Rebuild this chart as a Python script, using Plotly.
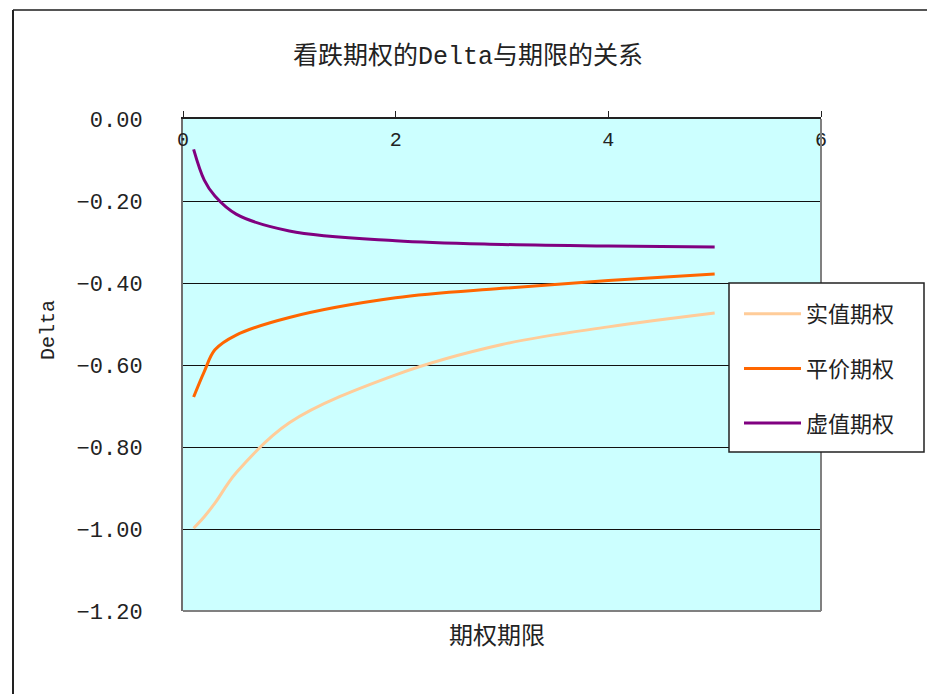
import plotly.graph_objects as go

# Data
maturity = [0.1, 0.2, 0.3, 0.5, 1, 2, 3, 4, 5]
itm_delta = [-0.998, -0.970, -0.937, -0.863, -0.741, -0.624, -0.550, -0.507, -0.473]
atm_delta = [-0.678, -0.616, -0.563, -0.527, -0.484, -0.436, -0.413, -0.394, -0.378]
otm_delta = [-0.074, -0.149, -0.188, -0.232, -0.273, -0.297, -0.306, -0.310, -0.312]
series_names = ["实值期权", "平价期权", "虚值期权"]
series_colors = ["#FFCC99", "#FF6600", "#800080"]
x_ticks = [0, 2, 4, 6]
y_ticks = [0.0, -0.2, -0.4, -0.6, -0.8, -1.0, -1.2]

CJK = "Noto Sans CJK SC"
MONO = "Liberation Mono, DejaVu Sans Mono, " + CJK

fig = go.Figure()
for name, vals, col in zip(series_names, [itm_delta, atm_delta, otm_delta], series_colors):
    fig.add_trace(go.Scatter(
        x=maturity, y=vals, name=name, mode="lines",
        line=dict(color=col, width=3, shape="spline", smoothing=1.0),
        legendgroup=name,
    ))

O = 8  # default page body margin
W, H = 935 - O, 694 - O
L, R, T, B = 183 - O, 821 - O, 119 - O, 611 - O
pw, ph = R - L, B - T

def px(xp):
    return (xp - O - L) / pw

def py(yp):
    return (B - (yp - O)) / ph

shapes = [
    dict(type="line", xref="paper", yref="paper", x0=px(13), x1=px(960), y0=py(10), y1=py(10),
         line=dict(color="#555555", width=2)),
    dict(type="line", xref="paper", yref="paper", x0=px(13), x1=px(13), y0=py(10), y1=py(720),
         line=dict(color="#222222", width=2)),
    dict(type="line", xref="paper", yref="paper", x0=1, x1=1, y0=0, y1=1,
         line=dict(color="#808080", width=2), layer="above"),
    dict(type="line", xref="paper", yref="paper", x0=0, x1=1, y0=0, y1=0,
         line=dict(color="#808080", width=2), layer="above"),
    # legend frame
    dict(type="rect", xref="paper", yref="paper", x0=px(729), x1=px(924), y0=py(283), y1=py(452),
         fillcolor="white", line=dict(color="#222222", width=1.5), layer="above"),
]

fig.update_layout(
    width=W, height=H,
    margin=dict(l=L, r=W - R, t=T, b=H - B, autoexpand=False),
    paper_bgcolor="white",
    plot_bgcolor="#CCFFFF",
    title=dict(text="看跌期权的Delta与期限的关系", x=(468 - O) / W, xref="container", xanchor="center",
               y=1 - (55 - O) / H, yref="container", yanchor="middle",
               font=dict(family=MONO, size=25, color="#222222")),
    xaxis=dict(range=[0, 6], tickvals=x_ticks, side="top", showgrid=False, zeroline=False,
               showline=True, linecolor="#222222", linewidth=1.5,
               ticks="outside", ticklen=6, tickcolor="#222222",
               ticklabelposition="outside", ticklabelstandoff=-43,
               tickfont=dict(family=MONO, size=20, color="#222222")),
    yaxis=dict(range=[-1.2, 0], tickvals=y_ticks, tickformat=".2f", showgrid=True,
               gridcolor="#111111", gridwidth=1, zeroline=False,
               showline=True, linecolor="#707070", linewidth=2, ticks="",
               ticklabelstandoff=34,
               tickfont=dict(family=MONO, size=22, color="#222222")),
    legend=dict(x=px(739), y=py(293), xanchor="left", yanchor="top",
                bgcolor="rgba(0,0,0,0)", borderwidth=0,
                font=dict(family=CJK, size=22, color="#222222"),
                tracegroupgap=23, itemwidth=57, traceorder="grouped"),
    shapes=shapes,
    annotations=[
        dict(text="期权期限", xref="paper", yref="paper", x=px(497), y=py(633),
             xanchor="center", yanchor="middle", showarrow=False,
             font=dict(family=CJK, size=24, color="#222222")),
        dict(text="Delta", xref="paper", yref="paper", x=px(48), y=py(330), textangle=-90,
             xanchor="center", yanchor="middle", showarrow=False,
             font=dict(family=MONO, size=20, color="#222222")),
    ],
    showlegend=True,
)

fig.write_html("out.html")
